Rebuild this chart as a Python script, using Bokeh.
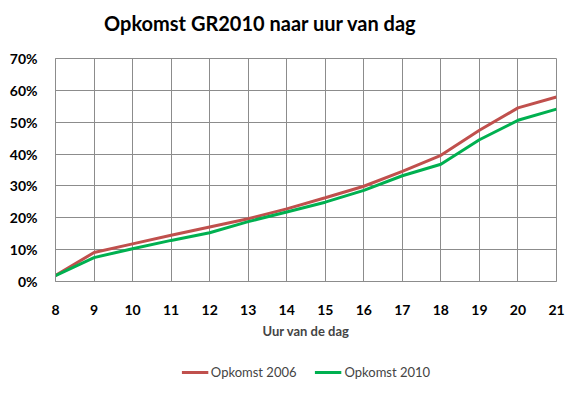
from bokeh.plotting import figure
from bokeh.layouts import column
from bokeh.models import (FixedTicker, NumeralTickFormatter, Legend, LegendItem,
                          Range1d, ColumnDataSource, Label)
from bokeh.embed import file_html
from bokeh.resources import INLINE

hours = [8, 9, 10, 11, 12, 13, 14, 15, 16, 17, 18, 19, 20, 21]
opkomst_2006 = [0.019, 0.091, 0.118, 0.145, 0.171, 0.197, 0.228, 0.263, 0.299, 0.346, 0.396, 0.475, 0.545, 0.579]
opkomst_2010 = [0.018, 0.075, 0.103, 0.129, 0.153, 0.188, 0.218, 0.249, 0.286, 0.332, 0.368, 0.445, 0.506, 0.541]
y_ticks = [0, 0.1, 0.2, 0.3, 0.4, 0.5, 0.6, 0.7]
series_names = ["Opkomst 2006", "Opkomst 2010"]
series_colors = ["#C0504D", "#00B050"]
title_text = "Opkomst GR2010 naar uur van dag"

FONT = "Lato"
GRID = "#8c8c8c"
W = 574

# title row (its frame is aligned with the main chart's frame)
tf = figure(width=W, height=44, output_backend="svg", toolbar_location=None,
            x_range=Range1d(0, 1), y_range=Range1d(0, 1),
            min_border=0, outline_line_color=None)
tf.axis.visible = False
tf.grid.visible = False
tf.add_layout(Label(x=205, y=22, x_units="screen", y_units="screen",
                    text=title_text, text_align="center", text_baseline="middle",
                    text_font=FONT, text_font_size="20px", text_font_style="bold",
                    text_color="#000000"))

# main chart
p = figure(frame_width=501, frame_height=223, output_backend="svg", toolbar_location=None,
           x_range=Range1d(8, 21), y_range=Range1d(0, 0.7),
           min_border_left=55, min_border_right=18, min_border_top=14,
           min_border_bottom=69)
p.outline_line_color = GRID
p.background_fill_color = "white"
p.border_fill_color = "white"

src = ColumnDataSource(dict(h=hours, a=opkomst_2006, b=opkomst_2010))
r1 = p.line("h", "a", source=src, line_color=series_colors[0], line_width=3)
r2 = p.line("h", "b", source=src, line_color=series_colors[1], line_width=3)

p.xaxis.ticker = FixedTicker(ticks=hours)
p.yaxis.ticker = FixedTicker(ticks=y_ticks)
p.yaxis.formatter = NumeralTickFormatter(format="0%")

for ax in (p.xaxis[0], p.yaxis[0]):
    ax.axis_line_color = GRID
    ax.major_tick_line_color = None
    ax.minor_tick_line_color = None
    ax.major_label_text_font = FONT
    ax.major_label_text_font_size = "14px"
    ax.major_label_text_font_style = "bold"
    ax.major_label_text_color = "#000000"

p.yaxis.major_label_standoff = 12
p.xaxis.major_label_standoff = 17
p.xaxis.axis_label = "Uur van de dag"
p.xaxis.axis_label_text_font = FONT
p.xaxis.axis_label_text_font_size = "13px"
p.xaxis.axis_label_text_font_style = "bold"
p.xaxis.axis_label_standoff = 5

p.xgrid.grid_line_color = GRID
p.ygrid.grid_line_color = GRID
p.xgrid.grid_line_width = 1
p.ygrid.grid_line_width = 1

# legend row below the chart (its lines lie outside its own visible range)
lf = figure(width=W, height=44, output_backend="svg", toolbar_location=None,
            x_range=Range1d(0, 1), y_range=Range1d(0, 1),
            min_border=0, outline_line_color=None)
lf.axis.visible = False
lf.grid.visible = False
l1 = lf.line("h", "a", source=src, line_color=series_colors[0], line_width=3)
l2 = lf.line("h", "b", source=src, line_color=series_colors[1], line_width=3)
legend = Legend(items=[LegendItem(label=series_names[0], renderers=[l1]),
                       LegendItem(label=series_names[1], renderers=[l2])],
                orientation="horizontal", location="center",
                label_text_font=FONT, label_text_font_size="13px",
                border_line_color=None, background_fill_alpha=0,
                glyph_width=27, glyph_height=16, label_height=16, spacing=18,
                label_standoff=3, padding=2, margin=0)
lf.add_layout(legend, "center")

layout = column(tf, p, lf, spacing=0)
open("out.html", "w").write(file_html(layout, INLINE))
